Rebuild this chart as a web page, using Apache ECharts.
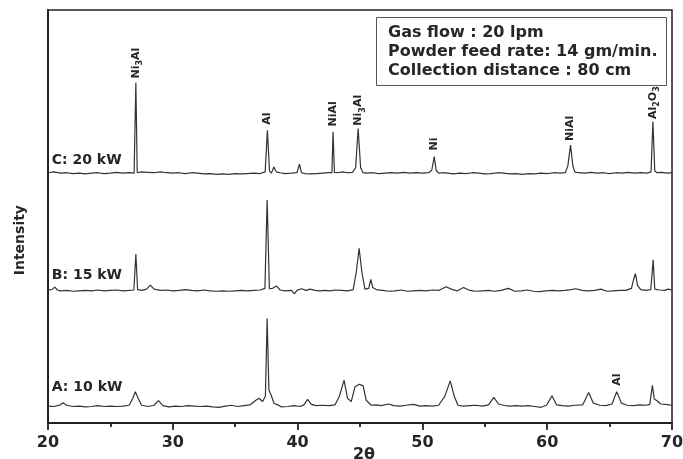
<!DOCTYPE html>
<html>
<head>
<meta charset="utf-8">
<script src="https://cdn.jsdelivr.net/npm/echarts@6/dist/echarts.min.js"></script>
<style>
  html, body { margin: 0; padding: 0; background: #fff; }
  #main { width: 683px; height: 459px; }
</style>
</head>
<body>
<div id="main"></div>
<script>
// x tick labels (2 theta)
var xTicks = [20, 30, 40, 50, 60, 70];

// stacked XRD traces, [2theta, intensity]
var trace20kW = [
  [20,60.6],[20.5,60.8],[21,60.5],[21.5,60.6],[22,60.4],[22.5,60.5],[23,60.3],[23.5,60.5],[24,60.6],[24.5,60.4],
  [25,60.5],[25.5,60.7],[26,60.5],[26.5,60.6],[26.9,60.5],[27.04,82.4],[27.15,60.6],[27.5,60.8],[28,60.7],[28.5,60.6],
  [29,60.8],[29.5,60.6],[30,60.5],[30.5,60.6],[31,60.4],[31.5,60.6],[32,60.5],[32.5,60.3],[33,60.4],[33.5,60.2],
  [34,60.3],[34.5,60.2],[35,60.4],[35.5,60.3],[36,60.4],[36.5,60.5],[37,60.4],[37.4,60.8],[37.58,70.9],[37.75,61],
  [37.9,60.5],[38.1,62],[38.3,60.8],[38.6,60.6],[39,60.4],[39.5,60.5],[39.95,60.6],[40.15,62.7],[40.3,60.6],[40.6,60.4],
  [41,60.3],[41.5,60.4],[42,60.5],[42.5,60.6],[42.75,60.6],[42.84,70.5],[42.95,60.7],[43.2,60.6],[43.6,60.8],[44,60.6],
  [44.4,60.7],[44.65,61.8],[44.85,71.3],[45.05,61.8],[45.25,60.6],[45.6,60.5],[46,60.6],[46.5,60.4],[47,60.5],[47.5,60.6],
  [48,60.5],[48.5,60.7],[49,60.5],[49.5,60.6],[50,60.5],[50.5,60.6],[50.75,61.2],[50.95,64.5],[51.1,61.2],[51.3,60.5],
  [51.6,60.6],[52,60.5],[52.5,60.3],[53,60.5],[53.5,60.4],[54,60.6],[54.5,60.5],[55,60.3],[55.5,60.4],[56,60.6],
  [56.5,60.5],[57,60.3],[57.5,60.4],[58,60.2],[58.5,60.4],[59,60.3],[59.5,60.5],[60,60.4],[60.5,60.6],[61,60.5],
  [61.45,60.6],[61.65,62.2],[61.87,67.3],[62.05,62.4],[62.2,60.8],[62.5,60.6],[63,60.5],[63.5,60.7],[64,60.5],[64.5,60.6],
  [65,60.4],[65.5,60.6],[66,60.5],[66.5,60.7],[67,60.5],[67.5,60.6],[68,60.5],[68.32,60.8],[68.47,73],[68.62,61],
  [68.8,60.6],[69.2,60.7],[69.6,60.5],[70,60.6]
];
var trace15kW = [
  [20,32.2],[20.3,32.3],[20.55,32.9],[20.75,32.2],[21,32.0],[21.5,32.1],[22,31.9],[22.5,32.0],[23,32.1],[23.5,32.0],
  [24,32.2],[24.5,32.0],[25,32.1],[25.5,32.2],[26,32.0],[26.5,32.1],[26.88,32.2],[27.04,40.9],[27.18,32.3],[27.5,32.1],
  [27.9,32.4],[28.2,33.4],[28.5,32.4],[29,32.1],[29.5,32.2],[30,32.0],[30.5,32.1],[31,32.3],[31.5,32.1],[32,32.0],
  [32.5,32.2],[33,32.0],[33.5,31.9],[34,32.0],[34.5,31.9],[35,32.0],[35.5,32.1],[36,32.0],[36.5,32.1],[37,32.2],
  [37.38,32.6],[37.56,54],[37.74,32.5],[38.0,32.6],[38.3,33.2],[38.6,32.2],[39,32.0],[39.5,32.1],[39.75,31.3],[39.95,32.1],
  [40.3,32.5],[40.7,32.1],[41.0,32.4],[41.4,32.1],[41.8,32.0],[42.2,32.1],[42.6,32.0],[43,32.2],[43.5,32.1],[44,32.0],
  [44.45,32.3],[44.7,36.5],[44.93,42.3],[45.15,36.5],[45.4,32.4],[45.7,32.6],[45.86,34.8],[46.02,32.8],[46.3,32.3],[46.8,32.1],
  [47.3,31.9],[47.8,32.0],[48.3,32.2],[48.8,31.9],[49.3,32.0],[49.8,32.1],[50.3,32.0],[50.8,32.2],[51.3,32.1],[51.9,33.0],
  [52.4,32.3],[52.8,32.0],[53.3,32.8],[53.8,32.1],[54.3,31.9],[54.8,32.0],[55.3,32.1],[55.8,31.9],[56.3,32.1],[56.9,32.6],
  [57.4,31.9],[57.9,32.0],[58.4,32.2],[58.9,31.9],[59.4,31.8],[59.9,32.0],[60.4,32.1],[60.9,32.0],[61.4,32.1],[61.9,32.3],
  [62.3,32.5],[62.8,32.1],[63.3,32.0],[63.8,32.1],[64.3,32.4],[64.8,31.9],[65.3,32.0],[65.8,32.1],[66.3,32.1],[66.75,32.6],
  [66.9,34.5],[67.07,36.2],[67.25,33.2],[67.5,32.3],[67.9,32.1],[68.3,32.3],[68.49,39.5],[68.62,32.4],[69.0,32.2],[69.4,32.1],
  [69.7,32.4],[70,32.2]
];
var trace10kW = [
  [20,4.1],[20.5,4.0],[21,4.4],[21.2,4.9],[21.5,4.3],[22,4.0],[22.5,4.1],[23,3.9],[23.5,4.0],[24,4.2],
  [24.5,4.0],[25,4.1],[25.5,4.0],[26,4.1],[26.5,4.3],[26.8,6.0],[27.0,7.6],[27.25,5.8],[27.5,4.3],[28,4.0],
  [28.5,4.3],[28.86,5.4],[29.2,4.2],[29.7,3.9],[30.2,4.1],[30.7,4.0],[31.2,4.2],[31.7,4.1],[32.2,4.0],[32.7,4.1],
  [33.2,3.9],[33.7,3.8],[34.2,4.1],[34.7,4.3],[35.2,4.0],[35.7,4.2],[36.2,4.4],[36.6,5.4],[36.9,6.0],[37.2,5.2],
  [37.42,6.5],[37.56,25.3],[37.7,8.0],[37.9,6.6],[38.1,4.8],[38.4,4.4],[38.7,3.9],[39.2,4.0],[39.7,4.2],[40.2,4.0],
  [40.5,4.4],[40.8,5.7],[41.1,4.5],[41.5,4.2],[42,4.3],[42.5,4.2],[43,4.4],[43.35,6.5],[43.72,10.4],[44.0,6.0],
  [44.3,5.2],[44.6,8.8],[44.95,9.4],[45.25,9.0],[45.5,5.5],[45.9,4.3],[46.3,4.4],[46.7,4.2],[47.3,4.6],[47.7,4.2],
  [48.2,4.1],[48.7,4.3],[49.3,4.5],[49.8,4.1],[50.3,4.2],[50.8,4.1],[51.3,4.3],[51.8,6.5],[52.23,10.2],[52.55,6.5],
  [52.85,4.3],[53.3,4.1],[53.8,4.2],[54.3,4.3],[54.8,4.1],[55.3,4.4],[55.72,6.2],[56.1,4.6],[56.5,4.3],[57,4.1],
  [57.5,4.2],[58,4.1],[58.5,4.2],[59,4.0],[59.5,3.8],[59.95,4.3],[60.38,6.6],[60.75,4.4],[61.2,4.2],[61.7,4.1],
  [62.2,4.3],[62.85,4.4],[63.32,7.4],[63.7,4.8],[64.2,4.3],[64.7,4.2],[65.2,4.6],[65.57,7.6],[65.95,4.8],[66.4,4.3],
  [66.9,4.2],[67.4,4.4],[67.9,4.3],[68.22,4.5],[68.43,9.1],[68.58,5.8],[68.8,5.4],[69.1,4.6],[69.5,4.5],[70,4.3]
];

// phase labels over the peaks: [2theta, bottom of label, text]
var peakLabels = [
  [27.04, 83.4, 'Ni{s|3}Al'],
  [37.58, 72.2, 'Al'],
  [42.84, 71.8, 'NiAl'],
  [44.85, 72.0, 'Ni{s|3}Al'],
  [50.95, 66.0, 'Ni'],
  [61.87, 68.3, 'NiAl'],
  [68.47, 73.6, 'Al{s|2}O{s|3}'],
  [65.57, 9.0, 'Al']
];
// power labels of the three traces
var traceLabels = [
  [20.3, 63.7, 'C: 20 kW'],
  [20.3, 35.8, 'B: 15 kW'],
  [20.3, 8.7, 'A: 10 kW']
];
var infoText = 'Gas flow : 20 lpm\nPowder feed rate: 14 gm/min.\nCollection distance : 80 cm';

var ink = '#262626';
var font = 'DejaVu Sans';

var myChart = echarts.init(document.getElementById('main'));

var traceLine = function (name, data) {
  return {
    name: name,
    type: 'line',
    data: data,
    showSymbol: false,
    symbol: 'none',
    lineStyle: { color: '#333', width: 1.2 },
    silent: true,
    z: 3
  };
};

option = {
  animation: false,
  title: {
    text: infoText,
    left: 376,
    top: 17,
    padding: [6, 9, 6, 12],
    borderColor: '#555',
    borderWidth: 1,
    textStyle: {
      fontFamily: font,
      fontSize: 16,
      fontWeight: 'bold',
      color: ink,
      lineHeight: 19
    }
  },
  grid: {
    left: 48,
    right: 11,
    top: 10,
    bottom: 36,
    outerBoundsMode: 'none',
    show: true,
    borderColor: '#222',
    borderWidth: 1.5
  },
  graphic: [
    {
      type: 'text',
      left: 13,
      top: 205,
      rotation: Math.PI / 2,
      style: {
        text: 'Intensity',
        font: 'bold 14px "DejaVu Sans"',
        fill: ink
      }
    }
  ],
  xAxis: {
    type: 'value',
    min: 20,
    max: 70,
    interval: 10,
    name: '2θ',
    nameLocation: 'middle',
    nameGap: 24,
    nameMoveOverlap: false,
    nameTextStyle: { fontFamily: font, fontSize: 16, fontWeight: 'bold', color: ink, padding: [0, 0, 0, 8] },
    axisLine: { lineStyle: { color: '#222', width: 2 } },
    axisTick: { length: 7, lineStyle: { color: '#222', width: 1.8 } },
    minorTick: { show: true, splitNumber: 2, length: 4, lineStyle: { color: '#222', width: 1.8 } },
    axisLabel: {
      fontFamily: font, fontSize: 16, fontWeight: 'bold', color: ink, margin: 12,
      formatter: function (v) { return xTicks.indexOf(v) >= 0 ? String(v) : ''; }
    },
    splitLine: { show: false }
  },
  yAxis: {
    type: 'value',
    min: 0,
    max: 100,
    axisLine: { show: true, lineStyle: { color: '#222', width: 2 } },
    axisTick: { show: false },
    axisLabel: { show: false },
    splitLine: { show: false }
  },
  series: [
    traceLine('20 kW', trace20kW),
    traceLine('15 kW', trace15kW),
    traceLine('10 kW', trace10kW),
    {
      name: 'phases',
      type: 'scatter',
      symbolSize: 0,
      silent: true,
      itemStyle: { opacity: 1 },
      data: peakLabels,
      label: {
        show: true,
        position: 'inside',
        rotate: 90,
        align: 'left',
        verticalAlign: 'middle',
        formatter: function (p) { return p.data[2]; },
        fontFamily: font,
        fontSize: 11,
        fontWeight: 'bold',
        color: ink,
        rich: {
          s: { fontFamily: font, fontSize: 8, fontWeight: 'bold', color: ink, verticalAlign: 'bottom', lineHeight: 17 }
        }
      },
      z: 4
    },
    {
      name: 'power',
      type: 'scatter',
      symbolSize: 0,
      silent: true,
      itemStyle: { opacity: 1 },
      data: traceLabels,
      label: {
        show: true,
        position: 'inside',
        align: 'left',
        verticalAlign: 'middle',
        formatter: function (p) { return p.data[2]; },
        fontFamily: font,
        fontSize: 14,
        fontWeight: 'bold',
        color: ink
      },
      z: 4
    }
  ]
};

myChart.setOption(option);
</script>
</body>
</html>
